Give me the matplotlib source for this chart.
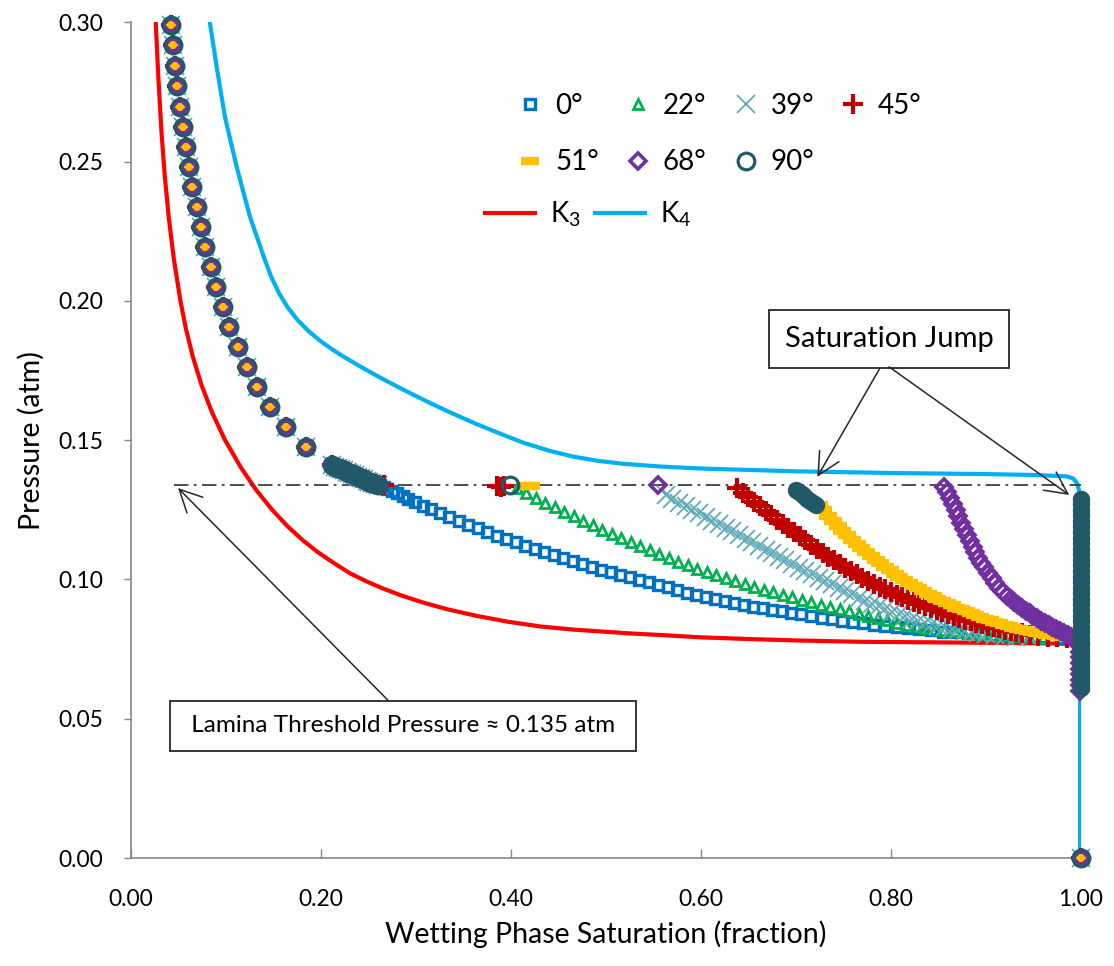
import matplotlib.pyplot as plt

plt.rcParams['font.family'] = ['Lato', 'DejaVu Sans']
plt.rcParams['mathtext.fontset'] = 'custom'
plt.rcParams['mathtext.rm'] = 'Lato'
plt.rcParams['mathtext.default'] = 'regular'

# drainage points, shared by every contact angle
drain_sw = [0.0418, 0.0439, 0.0464, 0.0488, 0.0516, 0.0551, 0.0580, 0.0611, 0.0643, 0.0692, 0.0735,
            0.0780, 0.0840, 0.0896, 0.0966, 0.1036, 0.1124, 0.1219, 0.1331, 0.1465, 0.1633, 0.1844]
drain_pc = [0.2989, 0.2917, 0.2842, 0.2770, 0.2695, 0.2623, 0.2551, 0.2480, 0.2408, 0.2336, 0.2264,
            0.2192, 0.2120, 0.2049, 0.1977, 0.1905, 0.1833, 0.1762, 0.1690, 0.1618, 0.1546, 0.1475]
# dense cluster where drainage meets the lamina threshold
cluster_sw = [0.212, 0.215, 0.218, 0.221, 0.224, 0.227, 0.230, 0.233, 0.236, 0.239, 0.242, 0.245,
              0.248, 0.251, 0.254, 0.257, 0.260]
cluster_pc = [0.1410, 0.1405, 0.1400, 0.1396, 0.1391, 0.1387, 0.1382, 0.1378, 0.1373, 0.1369, 0.1364,
              0.1360, 0.1355, 0.1351, 0.1346, 0.1342, 0.1338]
end_sw = [1.0]
end_pc = [0.0]

# imbibition branches
sw_0 = [0.262, 0.266, 0.270, 0.275, 0.280, 0.286, 0.292, 0.299, 0.307, 0.316,
        0.325, 0.335, 0.345, 0.355, 0.365, 0.375, 0.385, 0.395, 0.405, 0.415,
        0.425, 0.435, 0.445, 0.455, 0.465, 0.475, 0.485, 0.495, 0.505, 0.515,
        0.525, 0.535, 0.545, 0.555, 0.565, 0.575, 0.585, 0.595, 0.605, 0.615,
        0.625, 0.635, 0.645, 0.655, 0.665, 0.675, 0.685, 0.695, 0.705,
        0.716, 0.727, 0.738, 0.749, 0.760, 0.771, 0.782,
        0.794, 0.806, 0.818, 0.830, 0.842,
        0.855, 0.868, 0.881, 0.895, 0.910, 0.925, 0.940, 0.960, 0.980]
pc_0 = [0.1338, 0.1333, 0.1326, 0.1318, 0.1310, 0.1300, 0.1290, 0.1278, 0.1265, 0.1252,
        0.1240, 0.1225, 0.1211, 0.1197, 0.1183, 0.1170, 0.1157, 0.1145, 0.1133, 0.1121,
        0.1110, 0.1099, 0.1088, 0.1077, 0.1066, 0.1055, 0.1044, 0.1034, 0.1025, 0.1016,
        0.1007, 0.0998, 0.0989, 0.0980, 0.0971, 0.0962, 0.0953, 0.0945, 0.0937, 0.0929,
        0.0922, 0.0915, 0.0908, 0.0902, 0.0896, 0.0890, 0.0885, 0.0880, 0.0875,
        0.0869, 0.0863, 0.0857, 0.0852, 0.0847, 0.0842, 0.0837,
        0.0833, 0.0829, 0.0825, 0.0821, 0.0817,
        0.0813, 0.0810, 0.0807, 0.0804, 0.0801, 0.0798, 0.0796, 0.0793, 0.0790]

sw_22 = [0.406, 0.416, 0.426, 0.436, 0.446, 0.456, 0.466, 0.476, 0.486, 0.496,
         0.506, 0.516, 0.526, 0.536, 0.546, 0.556, 0.566, 0.576, 0.586, 0.596,
         0.606, 0.616, 0.626, 0.636, 0.646, 0.656, 0.666, 0.676, 0.686, 0.696,
         0.706, 0.716, 0.726, 0.736, 0.746, 0.756, 0.766, 0.776, 0.786, 0.796,
         0.806, 0.816, 0.826, 0.836, 0.846, 0.856, 0.866, 0.876, 0.886, 0.896,
         0.906, 0.918, 0.930, 0.945, 0.960]
pc_22 = [0.1327, 0.1310, 0.1293, 0.1276, 0.1259, 0.1243, 0.1227, 0.1211, 0.1195, 0.1179,
         0.1164, 0.1149, 0.1134, 0.1120, 0.1106, 0.1092, 0.1078, 0.1064, 0.1051, 0.1038,
         0.1026, 0.1015, 0.1004, 0.0993, 0.0983, 0.0973, 0.0963, 0.0954, 0.0945, 0.0936,
         0.0927, 0.0918, 0.0909, 0.0901, 0.0893, 0.0885, 0.0877, 0.0869, 0.0861, 0.0853,
         0.0845, 0.0838, 0.0832, 0.0827, 0.0822, 0.0818, 0.0814, 0.0810, 0.0807, 0.0804,
         0.0802, 0.0800, 0.0797, 0.0794, 0.0791]

sw_39 = [0.563, 0.570, 0.577, 0.584, 0.591, 0.598, 0.605, 0.612, 0.619, 0.626,
         0.633, 0.640, 0.647, 0.654, 0.661, 0.668, 0.675, 0.682, 0.689, 0.696,
         0.703, 0.710, 0.717, 0.724, 0.731, 0.738, 0.745, 0.752, 0.759, 0.766,
         0.773, 0.780, 0.787, 0.794, 0.801, 0.808, 0.815, 0.822, 0.829, 0.836,
         0.843, 0.850, 0.857, 0.864, 0.871, 0.878, 0.885, 0.892,
         0.900, 0.910, 0.920, 0.932, 0.945]
pc_39 = [0.1302, 0.1289, 0.1276, 0.1263, 0.1250, 0.1237, 0.1224, 0.1211, 0.1198, 0.1185,
         0.1172, 0.1159, 0.1146, 0.1133, 0.1120, 0.1107, 0.1094, 0.1081, 0.1068, 0.1055,
         0.1042, 0.1030, 0.1018, 0.1006, 0.0994, 0.0982, 0.0970, 0.0958, 0.0946, 0.0935,
         0.0924, 0.0913, 0.0903, 0.0893, 0.0884, 0.0875, 0.0867, 0.0859, 0.0852, 0.0845,
         0.0839, 0.0833, 0.0828, 0.0823, 0.0818, 0.0814, 0.0810, 0.0807,
         0.0804, 0.0801, 0.0798, 0.0795, 0.0792]

sw_45 = [0.266, 0.385, 0.389, 0.393,
         0.638, 0.644, 0.650, 0.656, 0.662, 0.668, 0.674, 0.680, 0.686, 0.692,
         0.698, 0.704, 0.710, 0.716, 0.722, 0.728, 0.734, 0.740, 0.746, 0.752,
         0.758, 0.764, 0.770, 0.776, 0.782, 0.788, 0.794, 0.800, 0.806, 0.812,
         0.818, 0.824, 0.830, 0.836, 0.842, 0.848, 0.854, 0.860, 0.866, 0.872,
         0.878, 0.884, 0.890, 0.896, 0.902, 0.908, 0.914, 0.920, 0.926, 0.932,
         0.938, 0.946, 0.955, 0.965, 0.975, 0.985]
pc_45 = [0.1338, 0.1335, 0.1333, 0.1336,
         0.1327, 0.1311, 0.1295, 0.1279, 0.1263, 0.1247, 0.1231, 0.1215, 0.1200, 0.1185,
         0.1170, 0.1155, 0.1140, 0.1125, 0.1110, 0.1096, 0.1082, 0.1068, 0.1055, 0.1042,
         0.1030, 0.1018, 0.1006, 0.0995, 0.0984, 0.0974, 0.0964, 0.0954, 0.0945, 0.0936,
         0.0927, 0.0919, 0.0911, 0.0903, 0.0896, 0.0889, 0.0882, 0.0875, 0.0868, 0.0862,
         0.0856, 0.0850, 0.0844, 0.0839, 0.0834, 0.0829, 0.0824, 0.0819, 0.0814, 0.0810,
         0.0806, 0.0802, 0.0798, 0.0795, 0.0793, 0.0791]

sw_51 = [0.417, 0.421, 0.705, 0.712, 0.718,
         0.724, 0.729, 0.734, 0.739, 0.744, 0.749, 0.754, 0.759, 0.764, 0.769,
         0.774, 0.779, 0.784, 0.789, 0.794, 0.799, 0.804, 0.809, 0.814, 0.819,
         0.824, 0.829, 0.834, 0.839, 0.844, 0.849, 0.854, 0.859, 0.864, 0.869,
         0.874, 0.879, 0.884, 0.889, 0.894, 0.899, 0.904, 0.909, 0.914, 0.919,
         0.924, 0.929, 0.934, 0.939, 0.944, 0.949, 0.954, 0.959, 0.964, 0.969,
         0.974, 0.980, 0.986]
pc_51 = [0.1335, 0.1335, 0.1309, 0.1290, 0.1276,
         0.1268, 0.1248, 0.1229, 0.1210, 0.1192, 0.1175, 0.1158, 0.1142, 0.1127, 0.1112,
         0.1098, 0.1084, 0.1071, 0.1058, 0.1045, 0.1033, 0.1021, 0.1010, 0.0999, 0.0988,
         0.0978, 0.0968, 0.0958, 0.0949, 0.0940, 0.0931, 0.0923, 0.0915, 0.0907, 0.0899,
         0.0892, 0.0885, 0.0878, 0.0871, 0.0865, 0.0859, 0.0853, 0.0847, 0.0842, 0.0837,
         0.0832, 0.0827, 0.0823, 0.0819, 0.0815, 0.0811, 0.0808, 0.0805, 0.0802, 0.0799,
         0.0796, 0.0793, 0.0789]

sw_68 = [0.5546,
         0.856, 0.859, 0.862, 0.865, 0.868, 0.871, 0.874, 0.877, 0.880, 0.883,
         0.886, 0.889, 0.892, 0.895, 0.898,
         0.902, 0.906, 0.910, 0.914, 0.918, 0.922, 0.926, 0.930, 0.934, 0.938,
         0.942, 0.946, 0.950, 0.954, 0.958, 0.962, 0.966, 0.970, 0.974, 0.978,
         0.982, 0.986, 0.990, 0.994, 0.998,
         0.999, 0.999, 0.999, 0.999, 0.999, 0.999, 0.999, 0.999, 0.999]
pc_68 = [0.1338,
         0.1332, 0.1312, 0.1291, 0.1270, 0.1249, 0.1226, 0.1203, 0.1180, 0.1158, 0.1138,
         0.1118, 0.1098, 0.1078, 0.1060, 0.1043,
         0.1022, 0.1004, 0.0987, 0.0970, 0.0955, 0.0941, 0.0929, 0.0918, 0.0907, 0.0897,
         0.0887, 0.0878, 0.0869, 0.0860, 0.0851, 0.0843, 0.0835, 0.0828, 0.0821, 0.0814,
         0.0807, 0.0800, 0.0793, 0.0786, 0.0778,
         0.0760, 0.0740, 0.0720, 0.0700, 0.0680, 0.0660, 0.0640, 0.0620, 0.0600]

sw_90 = [0.399]
pc_90 = [0.1338]
# 90 deg: the lump after the jump and the vertical run at full saturation
sw_90_lump = [0.700, 0.703, 0.706, 0.709, 0.712, 0.715, 0.718, 0.721]
pc_90_lump = [0.1322, 0.1314, 0.1306, 0.1298, 0.1290, 0.1282, 0.1274, 0.1266]
pc_90_wall = [0.129, 0.127, 0.125, 0.123, 0.121, 0.119, 0.117, 0.115, 0.113, 0.111, 0.109, 0.107,
              0.105, 0.103, 0.101, 0.099, 0.097, 0.095, 0.093, 0.091, 0.089, 0.087, 0.085, 0.083,
              0.081, 0.079, 0.077, 0.075, 0.073, 0.071, 0.069, 0.067, 0.065, 0.063, 0.061]
sw_90_wall = [1.0] * len(pc_90_wall)

# analytical bounds
k3_sw = [0.0260, 0.0288, 0.0322, 0.0355, 0.0397, 0.0451, 0.0520, 0.0578, 0.0650, 0.0740, 0.0852,
         0.0990, 0.1160, 0.1320, 0.1485, 0.1650, 0.1810, 0.1958, 0.2130, 0.2305, 0.2479, 0.2647,
         0.2840, 0.3065, 0.3327, 0.3640, 0.3970, 0.4312, 0.4650, 0.5000, 0.5258, 0.5600, 0.6000,
         0.650, 0.700, 0.768, 0.850, 0.920, 0.970, 0.998]
k3_pc = [0.300, 0.280, 0.260, 0.245, 0.230, 0.215, 0.200, 0.190, 0.180, 0.170, 0.160,
         0.150, 0.140, 0.132, 0.125, 0.119, 0.114, 0.110, 0.106, 0.1022, 0.0993, 0.0968,
         0.0943, 0.0918, 0.0893, 0.0869, 0.0848, 0.0831, 0.0820, 0.0812, 0.0806, 0.0800, 0.0792,
         0.0786, 0.0781, 0.0776, 0.0774, 0.0772, 0.0770, 0.0768]
k4_sw = [0.0832, 0.0902, 0.0989, 0.1112, 0.1253, 0.1410, 0.1476, 0.1560, 0.1650, 0.1754, 0.1870,
         0.1993, 0.2116, 0.2231, 0.2430, 0.2642, 0.2866, 0.3102, 0.3350, 0.3614, 0.3902, 0.4127,
         0.4412, 0.4652, 0.4907, 0.5182, 0.5582, 0.6002, 0.660, 0.700, 0.750, 0.800, 0.850,
         0.900, 0.950, 0.985, 0.992, 0.996, 0.998, 0.999, 0.999]
k4_pc = [0.2995, 0.2839, 0.2660, 0.2481, 0.2301, 0.2146, 0.2086, 0.2026, 0.1976, 0.1931, 0.1891,
         0.1856, 0.1826, 0.1801, 0.1761, 0.1721, 0.1681, 0.1641, 0.1601, 0.1561, 0.1521, 0.1491,
         0.1461, 0.1441, 0.1426, 0.1415, 0.1405, 0.1398, 0.1392, 0.1388, 0.1385, 0.1382, 0.1380,
         0.1378, 0.1375, 0.1370, 0.1362, 0.1345, 0.1320, 0.1280, 0.0]

threshold = 0.134

series = [
    ('0°', sw_0, pc_0, 's', '#0070C0', 7.5, 2.4),
    ('22°', sw_22, pc_22, '^', '#00B050', 7, 2.0),
    ('39°', sw_39, pc_39, 'x', '#5FA9BA', 12.5, 1.3),
    ('45°', sw_45, pc_45, '+', '#C00000', 14, 3.0),
    ('51°', sw_51, pc_51, '_', '#FFC000', 13, 6.0),
    ('68°', sw_68, pc_68, 'D', '#7030A0', 8.5, 2.6),
    ('90°', sw_90, pc_90, 'o', '#215968', 12, 2.3),
]

fig = plt.figure(figsize=(11.14, 9.66), dpi=100)
ax = fig.add_axes([0.1176, 0.1118, 0.8527, 0.8652])

hk3, = ax.plot(k3_sw, k3_pc, color='#FF0000', lw=3, label='K$_3$', zorder=1)
hk4, = ax.plot(k4_sw, k4_pc, color='#00B0F0', lw=3, label='K$_4$', zorder=1)

handles = {}
for label, sw, pc, marker, color, ms, mew in series:
    x = drain_sw + cluster_sw + sw + end_sw
    y = drain_pc + cluster_pc + pc + end_pc
    h, = ax.plot(x, y, linestyle='none', marker=marker, ms=ms, mew=mew, mfc='none',
                 mec=color, color=color, label=label, clip_on=False, zorder=3)
    handles[label] = h
# the 90 deg lump and wall are so dense they read as solid
ax.plot(sw_90_lump + sw_90_wall, pc_90_lump + pc_90_wall, linestyle='none', marker='o', ms=9,
        mew=3.5, mfc='#215968', mec='#215968', clip_on=False, zorder=3)

ax.hlines(threshold, 0.045, 1.0, colors='#404040', linestyles=(0, (8, 3, 1.5, 3)), lw=1.3, zorder=2)

ax.set_xlim(0, 1.0)
ax.set_ylim(0, 0.30)
ax.set_xticks([0, 0.2, 0.4, 0.6, 0.8, 1.0])
ax.set_xticklabels(['0.00', '0.20', '0.40', '0.60', '0.80', '1.00'])
ax.set_yticks([0, 0.05, 0.10, 0.15, 0.20, 0.25, 0.30])
ax.set_yticklabels(['0.00', '0.05', '0.10', '0.15', '0.20', '0.25', '0.30'])
for side in ['top', 'right']:
    ax.spines[side].set_visible(False)
for side in ['left', 'bottom']:
    ax.spines[side].set_color('#868686')
    ax.spines[side].set_linewidth(1.2)
ax.tick_params(axis='x', direction='in', length=6.5, width=1, color='#868686', pad=22, labelsize=16.5)
ax.tick_params(axis='y', direction='out', length=5, width=1, color='#868686', pad=15, labelsize=16.5)
ax.set_xlabel('Wetting Phase Saturation (fraction)', fontsize=20.5, labelpad=8)
ax.set_ylabel('Pressure (atm)', fontsize=20.5, labelpad=10)

# legends
order = ['0°', '51°', '22°', '68°', '39°', '90°', '45°']
leg1 = ax.legend(handles=[handles[k] for k in order], ncol=4, loc='upper left',
                 bbox_to_anchor=(0.466, 0.904), bbox_transform=fig.transFigure,
                 frameon=False, fontsize=20, handlelength=0.8, handletextpad=0.5,
                 columnspacing=1.0, labelspacing=1.1, borderpad=0, borderaxespad=0, numpoints=1)
ax.add_artist(leg1)
ax.legend(handles=[hk3, hk4], ncol=2, loc='upper left',
          bbox_to_anchor=(0.435, 0.793), bbox_transform=fig.transFigure,
          frameon=False, fontsize=20, handlelength=1.8, handletextpad=0.55,
          columnspacing=0.5, borderpad=0, borderaxespad=0)

arrow = dict(arrowstyle='->, head_length=0.8, head_width=0.4', color='#262626', lw=1.1,
             mutation_scale=20, shrinkA=0, shrinkB=0)

ax.annotate('Saturation Jump', xy=(0.7225, 0.1368), xytext=(0.798, 0.1862),
            fontsize=21, ha='center', va='center',
            bbox=dict(boxstyle='square,pad=0.55', fc='white', ec='#262626', lw=1.3),
            arrowprops=dict(arrow, relpos=(0.5, 0)), zorder=5)
ax.annotate('', xy=(0.9877, 0.1303), xytext=(0.798, 0.1763),
            arrowprops=arrow, zorder=5)
ax.annotate(' Lamina Threshold Pressure ≈ 0.135 atm ', xy=(0.0495, 0.1328), xytext=(0.2863, 0.0474),
            fontsize=17.5, ha='center', va='center',
            bbox=dict(boxstyle='square,pad=0.6', fc='white', ec='#262626', lw=1.3),
            arrowprops=dict(arrow, relpos=(0.5, 1)), zorder=5)

fig.savefig('out.png', dpi=100)
